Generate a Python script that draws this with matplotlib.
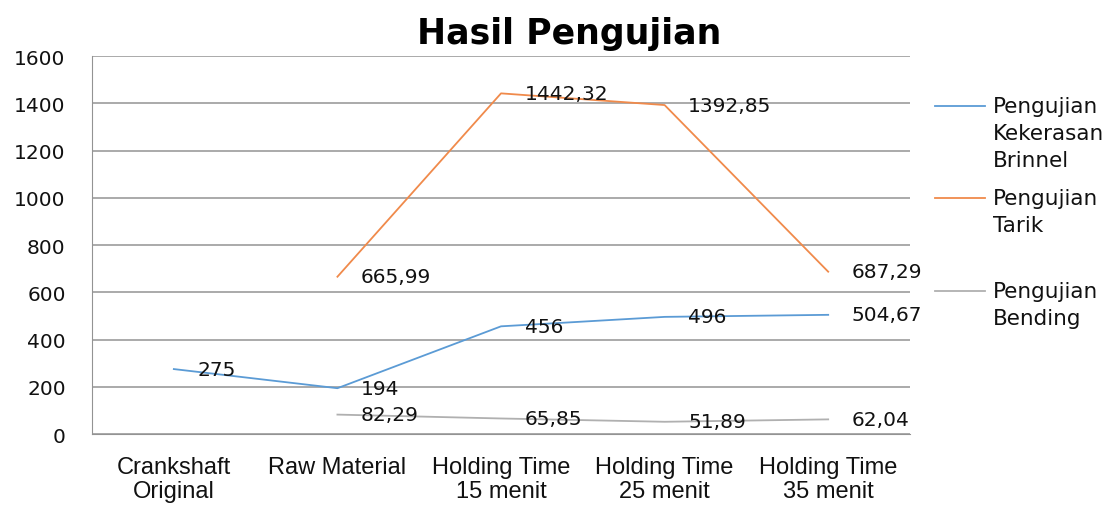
import matplotlib.pyplot as plt
from matplotlib.lines import Line2D

# Data
categories = ["Crankshaft\nOriginal", "Raw Material", "Holding Time\n15 menit",
              "Holding Time\n25 menit", "Holding Time\n35 menit"]
brinnel_x = [0, 1, 2, 3, 4]
brinnel = [275, 194, 456, 496, 504.67]
tarik_x = [1, 2, 3, 4]
tarik = [665.99, 1442.32, 1392.85, 687.29]
bending_x = [1, 2, 3, 4]
bending = [82.29, 65.85, 51.89, 62.04]

c_blue = "#5B9BD5"
c_orange = "#F08A4B"
c_gray = "#B0B0B0"

def fmt(v):
    s = f"{v:.2f}".rstrip("0").rstrip(".")
    return s.replace(".", ",")

fig = plt.figure(figsize=(11.13, 5.10), dpi=100)
ax = fig.add_axes([0.0827, 0.147, 0.7349, 0.741])

series = [(brinnel_x, brinnel, c_blue), (tarik_x, tarik, c_orange), (bending_x, bending, c_gray)]
for xs, ys, col in series:
    ax.plot(xs, ys, color=col, lw=1.3, zorder=3)
    for x, y in zip(xs, ys):
        ax.annotate(fmt(y), (x, y), xytext=(17, 0), textcoords="offset points",
                    ha="left", va="center", fontsize=14.5, color="#111111",
                    family="DejaVu Sans", zorder=4)

ax.set_xlim(-0.5, 4.5)
ax.set_ylim(0, 1600)
ax.set_yticks(range(0, 1601, 200))
ax.set_xticks(range(len(categories)))
ax.set_xticklabels(categories, family="Liberation Sans", fontsize=17, color="#111111",
                   linespacing=1.1)
ax.tick_params(axis="y", length=0, pad=19, labelsize=14.5, labelcolor="#111111")
ax.tick_params(axis="x", length=0, pad=16)
ax.grid(axis="y", color="#939393", lw=1.1)
ax.set_axisbelow(True)
for s in ["top", "right"]:
    ax.spines[s].set_visible(False)
ax.spines["left"].set_color("#939393")
ax.spines["bottom"].set_color("#939393")

fig.text(0.511, 0.933, "Hasil Pengujian", ha="center", va="center",
         fontsize=25, fontweight="bold", family="DejaVu Sans")

# Legend drawn by hand
legend = [("Pengujian\nKekerasan\nBrinnel", c_blue, 107),
          ("Pengujian\nTarik", c_orange, 199),
          ("Pengujian\nBending", c_gray, 292)]
for label, col, ypx in legend:
    yf = 1 - ypx / 510
    fig.add_artist(Line2D([935 / 1113, 985 / 1113], [yf, yf], color=col, lw=1.3))
    fig.text(993 / 1113, yf + 10 / 510, label, ha="left", va="top",
             fontsize=15.5, family="DejaVu Sans", color="#111111", linespacing=1.44)

fig.savefig("out.png", dpi=100)
